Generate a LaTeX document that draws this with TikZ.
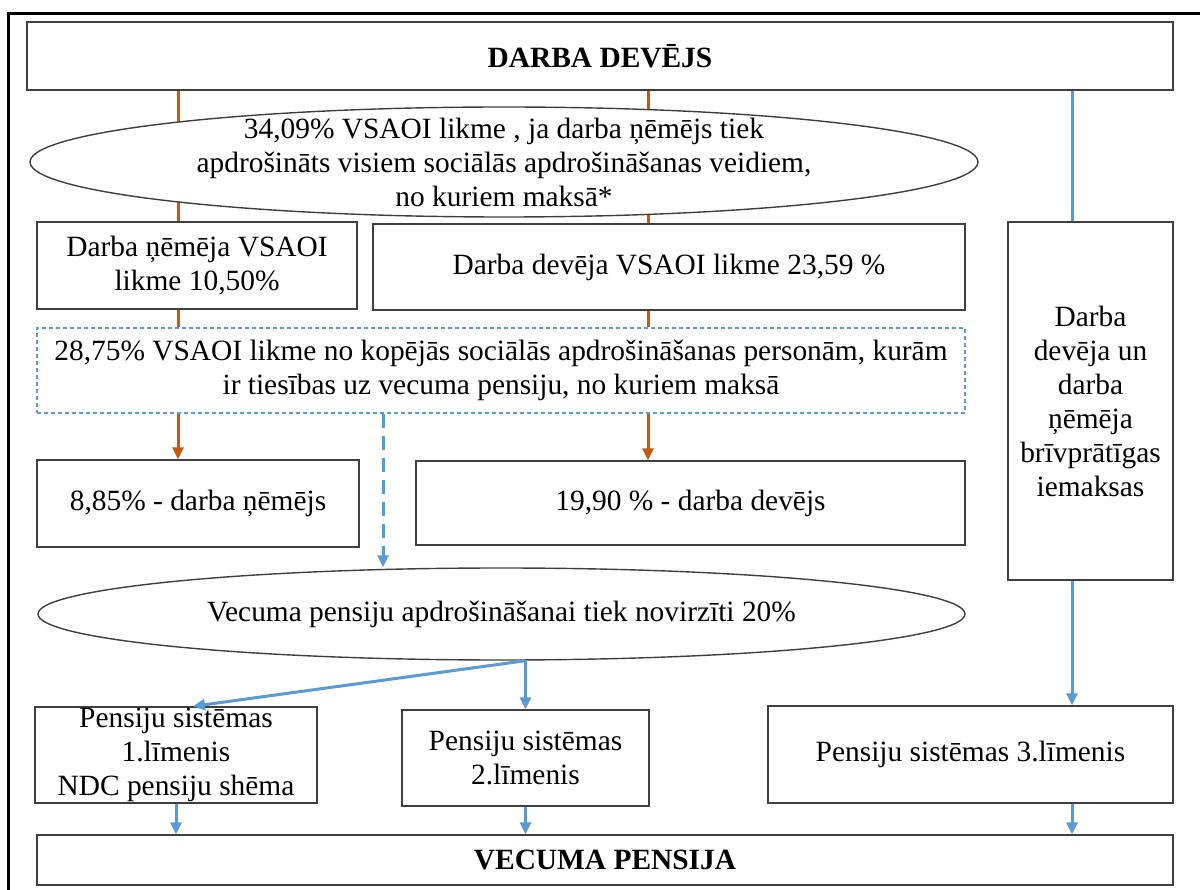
\documentclass[tikz,border=0pt]{standalone}
\usepackage{fontspec}
\setmainfont{Liberation Serif}
\usepackage{xcolor}
\usetikzlibrary{positioning}
\usetikzlibrary{shapes.geometric}
\usetikzlibrary{arrows.meta}
\usetikzlibrary{calc}
\usetikzlibrary{backgrounds}
\definecolor{flowor}{HTML}{C55A11}
\definecolor{flowbl}{HTML}{5B9BD5}
\definecolor{edge}{HTML}{3F3F3F}
\newcommand{\bodyfont}{\fontsize{29.4}{34}\selectfont}
\tikzset{
  % Box size: width / height
  dims/.style 2 args={minimum width=#1, minimum height=#2},
  % A plain box with centred text
  pbox/.style={
    draw=edge, fill=white, line width=1.4pt, rectangle, align=center,
    inner sep=0pt},
  % An oval
  oval/.style={
    draw=edge, fill=white, line width=1.4pt, ellipse, align=center,
    inner sep=0pt},
  % The note with the dashed outline
  note/.style={
    draw=flowbl, dash pattern=on 4pt off 3pt, fill=white, line width=1.2pt,
    rectangle, align=center, inner sep=0pt},
  % Flows
  feeds/.style={draw=flowor, line width=3pt},
  feedsto/.style={feeds, -{Triangle[length=12pt, width=11pt]}},
  goes/.style={draw=flowbl, line width=3pt},
  goesto/.style={goes, -{Triangle[length=12pt, width=11pt]}},
  goesdash/.style={goesto, dash pattern=on 14pt off 8pt},
}

\begin{document}
\begin{tikzpicture}[x=1pt, y=-1pt, font=\bodyfont]

  \useasboundingbox (0,0) rectangle (1200,890);
  \draw[line width=3pt] (1202,14) -- (8,14) -- (8,892);

  \node[pbox, dims={1146pt}{68pt}] (employer) at (600,56) {\textbf{DARBA DEVĒJS}};

  \node[oval, dims={948pt}{110pt}, inner ysep=-20pt] (rate) at (504,162)
    {34,09\% VSAOI likme , ja darba ņēmējs tiek\\
     apdrošināts visiem sociālās apdrošināšanas veidiem,\\
     no kuriem maksā*};

  \node[pbox, dims={320pt}{87pt}] (eerate) at (197,265.5) {Darba ņēmēja VSAOI\\ likme 10,50\%};
  \node[pbox, dims={592pt}{86pt}] (errate) at (669,267) {Darba devēja VSAOI likme 23,59 \%};

  \node[pbox, dims={165pt}{358pt}] (volunt) at (1090.5,401)
    {Darba\\ devēja un\\ darba\\ ņēmēja\\ brīvprātīgas\\ iemaksas};

  \node[note, dims={928pt}{85pt}] (pensrate) at (501,370.5)
    {28,75\% VSAOI likme no kopējās sociālās apdrošināšanas personām, kurām\\
     ir tiesības uz vecuma pensiju, no kuriem maksā};

  \node[pbox, dims={322pt}{87pt}] (eeshare) at (198,503.5) {8,85\% - darba ņēmējs};
  \node[pbox, dims={549pt}{84pt}] (ershare) at (690.5,503) {19,90 \% - darba devējs};

  \node[oval, dims={927pt}{92pt}] (oldage) at (501.5,614)
    {Vecuma pensiju apdrošināšanai tiek novirzīti 20\%};

  \node[pbox, dims={282pt}{96pt}, inner ysep=-10pt] (tier1) at (176,755)
    {Pensiju sistēmas\\ 1.līmenis\\ NDC pensiju shēma};
  \node[pbox, dims={247pt}{96pt}] (tier2) at (525.5,758) {Pensiju sistēmas\\ 2.līmenis};
  \node[pbox, dims={405pt}{97pt}] (tier3) at (970.5,754.5) {Pensiju sistēmas 3.līmenis};

  \node[pbox, dims={1136pt}{50pt}] (pension) at (605,860) {\textbf{VECUMA PENSIJA}};

  \coordinate (oa) at (178,0);
  \coordinate (ob) at (648,0);
  \coordinate (bd) at (383,0);
  \coordinate (bt) at (1072,0);
  \coordinate (fork) at (oldage.south -| tier2.north);

  \begin{scope}[on background layer]
    \draw[feeds] (employer.south -| oa) -- (eerate.north -| oa);
    \draw[feeds] (employer.south -| ob) -- (errate.north -| ob);
    \draw[goes] (employer.south -| bt) -- (volunt.north -| bt);
  \end{scope}

  \draw[feeds] (eerate.south -| oa) -- (pensrate.north -| oa);
  \draw[feeds] (errate.south -| ob) -- (pensrate.north -| ob);
  \draw[feedsto] (pensrate.south -| oa) -- (eeshare.north -| oa);
  \draw[feedsto] (pensrate.south -| ob) -- (ershare.north -| ob);

  \draw[goesdash] (pensrate.south -| bd) -- (bd |- oldage.north);
  \draw[goesto] (fork) -- ($(tier1.north)+(17,0)$);
  \draw[goesto] (fork) -- (tier2.north);
  \draw[goesto] (volunt.south -| bt) -- (tier3.north -| bt);

  \draw[goesto] (tier1.south) -- (tier1.south |- pension.north);
  \draw[goesto] (tier2.south) -- (tier2.south |- pension.north);
  \draw[goesto] (tier3.south -| bt) -- (pension.north -| bt);

\end{tikzpicture}
\end{document}
